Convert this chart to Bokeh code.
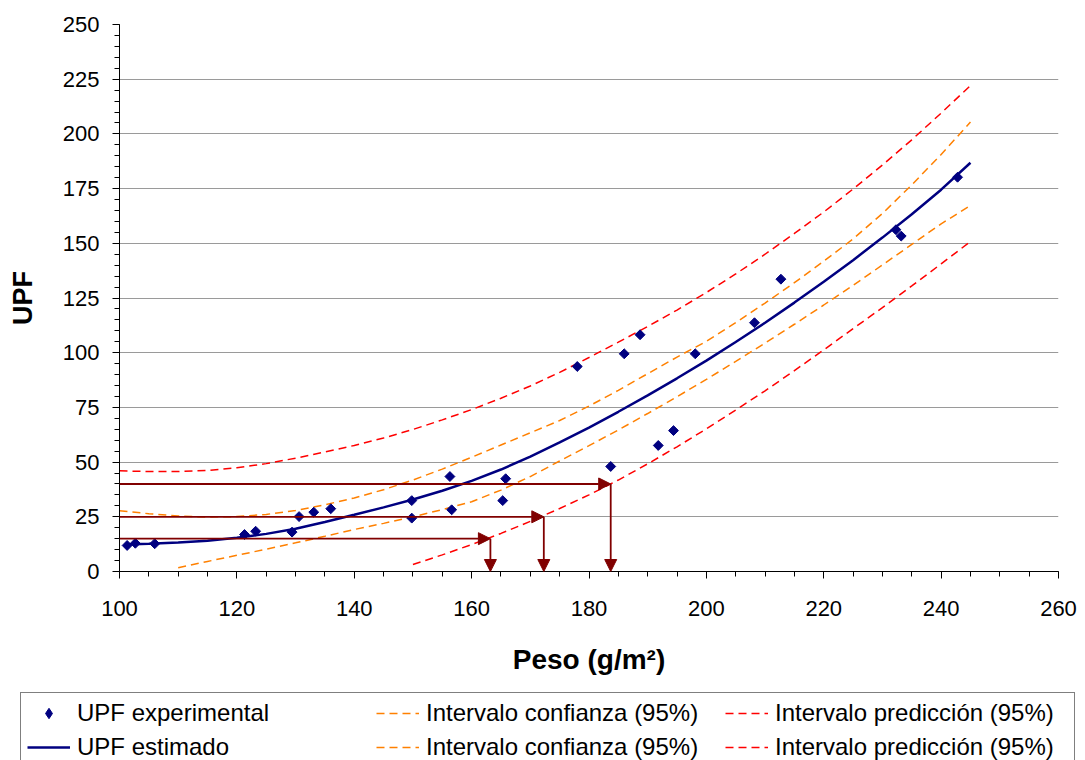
from bokeh.plotting import figure
from bokeh.layouts import column, row
from bokeh.models import (Range1d, SingleIntervalTicker, Legend, LegendItem,
                          Arrow, NormalHead, ColumnDataSource)
from bokeh.embed import file_html
from bokeh.resources import INLINE

# ---------------- data ----------------
exp_peso = [101.3, 102.7, 106.0, 121.3, 123.2, 129.4, 130.6, 133.1, 136.0,
            149.8, 149.8, 156.3, 156.6, 165.3, 165.8, 178.0, 183.7, 186.0,
            188.7, 191.8, 194.4, 198.1, 208.2, 212.7, 232.3, 233.2, 242.8]
exp_upf = [11.9, 12.9, 12.7, 16.9, 18.4, 18.0, 25.1, 27.1, 28.7,
           32.4, 24.4, 43.4, 28.2, 32.4, 42.4, 93.7, 48.0, 99.5,
           108.2, 57.6, 64.4, 99.5, 113.7, 133.6, 156.2, 153.3, 180.2]

est_peso = [101, 105, 110, 115, 120, 125, 130, 135, 140, 145, 150, 155, 160,
            165, 170, 175, 180, 185, 190, 195, 200, 205, 210, 215, 220, 225,
            230, 235, 240, 245]
est_upf = [12.3, 12.7, 13.3, 14.1, 15.4, 17.2, 19.5, 22.6, 25.9, 29.3, 32.9,
           36.9, 41.4, 46.6, 52.5, 59.0, 65.8, 73.0, 80.5, 88.3, 96.4, 104.9,
           113.7, 122.9, 132.4, 142.3, 152.6, 163.3, 174.5, 186.8]

conf_sup_peso = [100, 105, 110, 115, 120, 125, 130, 135, 140, 145, 150, 155,
                 160, 165, 170, 175, 180, 185, 190, 195, 200, 205, 210, 215,
                 220, 225, 230, 235, 240, 245]
conf_sup_upf = [27.8, 26.4, 25.4, 24.9, 25.1, 26.1, 27.9, 30.5, 33.6, 37.4,
                41.8, 46.8, 52.2, 57.8, 63.4, 69.0, 75.6, 82.8, 90.4, 98.0,
                105.2, 113.7, 122.7, 132.0, 141.8, 152.0, 163.6, 176.7, 190.6,
                205.4]

conf_inf_peso = [110, 115, 120, 125, 130, 135, 140, 145, 150, 155, 160, 165,
                 170, 175, 180, 185, 190, 195, 200, 205, 210, 215, 220, 225,
                 230, 235, 240, 245]
conf_inf_upf = [1.7, 4.6, 7.4, 10.2, 13.1, 16.1, 19.2, 22.0, 25.0, 28.3, 31.9,
                37.2, 43.4, 50.5, 57.5, 64.7, 72.2, 79.9, 87.8, 96.0, 104.4,
                113.0, 121.8, 130.8, 140.1, 149.5, 158.9, 167.3]

pred_sup_peso = [100, 105, 110, 115, 120, 125, 130, 135, 140, 145, 150, 155,
                 160, 165, 170, 175, 180, 185, 190, 195, 200, 205, 210, 215,
                 220, 225, 230, 235, 240, 245]
pred_sup_upf = [46.0, 45.7, 45.7, 46.2, 47.4, 49.3, 51.8, 54.6, 57.6, 61.0,
                64.9, 69.3, 74.0, 79.2, 84.8, 91.0, 97.8, 104.8, 112.0, 119.5,
                127.5, 136.0, 145.0, 154.5, 164.3, 174.8, 185.8, 197.3, 209.5,
                222.1]

pred_inf_peso = [150, 155, 160, 165, 170, 175, 180, 185, 190, 195, 200, 205,
                 210, 215, 220, 225, 230, 235, 240, 245]
pred_inf_upf = [3.2, 7.6, 12.3, 17.4, 22.9, 28.8, 35.0, 41.8, 49.2, 57.0, 65.2,
                73.8, 82.6, 91.8, 101.3, 111.0, 120.6, 130.5, 140.6, 150.8]

# threshold UPF values and the weights where they meet the lower prediction band
umbral_upf = [15, 25, 40]
umbral_peso = [163.2, 172.3, 183.7]
peso_min = [100, 100, 100]
upf_base = [0, 0, 0]

x_label = "Peso (g/m²)"
y_label = "UPF"
legend_labels = ["UPF experimental", "UPF estimado",
                 "Intervalo confianza (95%)", "Intervalo confianza (95%)",
                 "Intervalo predicción (95%)", "Intervalo predicción (95%)"]

FONT = "Liberation Sans"
NAVY = "#000080"
ORANGE = "#FF8000"
RED = "#FF0000"
DARKRED = "#800000"
DASH = "8 5"


def draw_series(fig, key=False):
    """Draw all series on a figure; returns the renderers in legend order."""
    if key:
        r_exp = fig.scatter(exp_peso, exp_upf, marker="diamond", size=10,
                            fill_color=NAVY, line_color=NAVY)
    else:
        r_exp = fig.scatter(exp_peso, exp_upf, marker="square", angle=0.785398, size=7,
                            fill_color=NAVY, line_color=NAVY)
    r_est = fig.line(est_peso, est_upf, line_color=NAVY, line_width=2.5)
    r_cs = fig.line(conf_sup_peso, conf_sup_upf, line_color=ORANGE, line_width=1.5, line_dash=DASH)
    r_ci = fig.line(conf_inf_peso, conf_inf_upf, line_color=ORANGE, line_width=1.5, line_dash=DASH)
    r_ps = fig.line(pred_sup_peso, pred_sup_upf, line_color=RED, line_width=1.5, line_dash=DASH)
    r_pi = fig.line(pred_inf_peso, pred_inf_upf, line_color=RED, line_width=1.5, line_dash=DASH)
    # keep the estimated curve and points on top
    fig.renderers = [r_ps, r_pi, r_cs, r_ci, r_est, r_exp]
    return [r_exp, r_est, r_cs, r_ci, r_ps, r_pi]


# ---------------- main chart ----------------
p = figure(frame_width=939, frame_height=547,
           min_border_left=119, min_border_right=27,
           min_border_top=24, min_border_bottom=119,
           x_range=Range1d(100, 260), y_range=Range1d(0, 250),
           output_backend="svg", toolbar_location=None,
           background_fill_color="white", border_fill_color="white")
p.outline_line_color = None

p.xaxis.ticker = SingleIntervalTicker(interval=20, num_minor_ticks=4)
p.yaxis.ticker = SingleIntervalTicker(interval=25, num_minor_ticks=5)
p.xgrid.grid_line_color = None
p.ygrid.grid_line_color = "#9a9a9a"
p.ygrid.grid_line_width = 1

for ax in (p.xaxis, p.yaxis):
    ax.axis_line_color = "black"
    ax.major_tick_line_color = "black"
    ax.minor_tick_line_color = "black"
    ax.major_tick_in = 0
    ax.major_tick_out = 7
    ax.minor_tick_in = 0
    ax.minor_tick_out = 5
    ax.major_label_text_font = FONT
    ax.major_label_text_font_size = "22px"
    ax.major_label_text_color = "black"
    ax.axis_label_text_font = FONT
    ax.axis_label_text_font_style = "bold"
    ax.axis_label_text_color = "black"

p.xaxis.axis_label_text_font_size = "28px"
p.yaxis.axis_label_text_font_size = "27px"
p.xaxis.axis_label = x_label
p.yaxis.axis_label = y_label
p.xaxis.major_label_standoff = 22
p.yaxis.major_label_standoff = 13
p.xaxis.axis_label_standoff = 25
p.yaxis.axis_label_standoff = 22

h_src = ColumnDataSource(dict(x0=peso_min, y0=umbral_upf, x1=umbral_peso, y1=umbral_upf))
v_src = ColumnDataSource(dict(x0=umbral_peso, y0=umbral_upf, x1=umbral_peso, y1=upf_base))
for src in (h_src, v_src):
    p.add_layout(Arrow(end=NormalHead(size=12, fill_color=DARKRED, line_color=DARKRED),
                       x_start="x0", y_start="y0", x_end="x1", y_end="y1",
                       source=src, line_color=DARKRED, line_width=1.8))

draw_series(p)

# ---------------- legend strip (series drawn off-range, only the key shows) ----------------
lg = figure(width=1085, height=70, min_border=0, x_axis_type=None, y_axis_type=None,
            x_range=Range1d(0, 1), y_range=Range1d(0, 1),
            output_backend="svg", toolbar_location=None,
            background_fill_color="white", border_fill_color="white")
lg.outline_line_color = None
lg.grid.grid_line_color = None
keys = draw_series(lg, key=True)

items = [LegendItem(label=lab, renderers=[r]) for lab, r in zip(legend_labels, keys)]
legend = Legend(items=items, orientation="vertical", nrows=2, ncols=3,
                location=(20, -8), margin=0, padding=6, spacing=6,
                glyph_width=43, glyph_height=26, label_height=26,
                label_width=293, label_standoff=7,
                label_text_font=FONT, label_text_font_size="24px",
                label_text_color="black",
                border_line_color="black", border_line_width=1,
                background_fill_color="white", background_fill_alpha=1)
lg.add_layout(legend, "center")

open("out.html", "w").write(file_html(column(p, row(lg, spacing=0), spacing=0), INLINE))
